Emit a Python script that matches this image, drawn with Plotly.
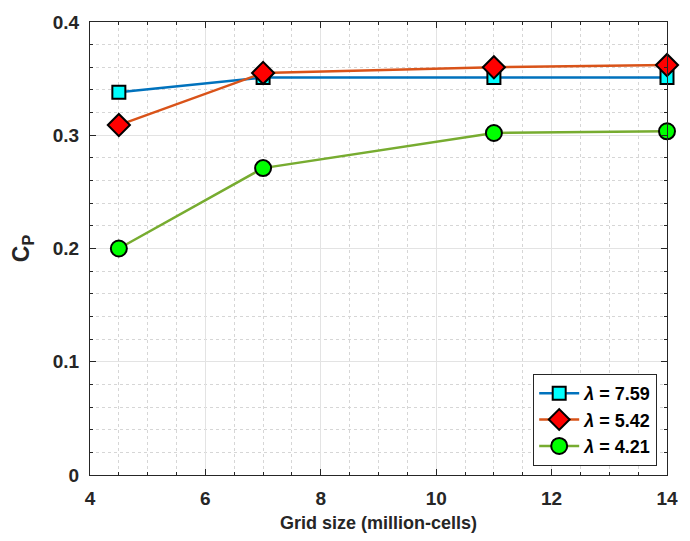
import plotly.graph_objects as go

grid_size = [4.5, 7, 11, 14]
cp_759 = [0.338, 0.351, 0.351, 0.351]
cp_542 = [0.309, 0.355, 0.360, 0.362]
cp_421 = [0.200, 0.271, 0.302, 0.3035]
labels = ["<i>λ</i> = 7.59", "<i>λ</i> = 5.42", "<i>λ</i> = 4.21"]

fig = go.Figure()
series = [
    (cp_759, labels[0], "#0072BD", "square", "#00FFFF", 13),
    (cp_542, labels[1], "#D95319", "diamond", "#FF0000", 17),
    (cp_421, labels[2], "#77AC30", "circle", "#00FF00", 16),
]
for y, name, lc, sym, mc, ms in series:
    fig.add_trace(go.Scatter(
        x=grid_size, y=y, name=name, mode="lines+markers",
        line=dict(color=lc, width=2.5),
        marker=dict(symbol=sym, color=mc, size=ms, line=dict(color="black", width=2)),
        cliponaxis=False,
    ))

font = "Liberation Sans, Arial, sans-serif"
axis_common = dict(
    showline=True, linecolor="#262626", linewidth=1, mirror="ticks",
    ticks="inside", ticklen=6, tickcolor="#262626", tickwidth=1,
    showgrid=True, gridcolor="#E3E3E3", gridwidth=1,
    zeroline=False,
    tickfont=dict(family=font, size=19, color="#262626", weight="bold"),
)
fig.update_xaxes(
    range=[4, 14], tickvals=[4, 6, 8, 10, 12, 14],
    ticklabelstandoff=6,
    minor=dict(dtick=0.5, ticks="inside", ticklen=3, tickcolor="#262626",
               showgrid=True, gridcolor="#D6D6D6", griddash="dot"),
    title=dict(text="<b>Grid size (million-cells)</b>", font=dict(family=font, size=18, color="#262626"), standoff=8),
    **axis_common,
)
fig.update_yaxes(
    range=[0, 0.4], tickvals=[0, 0.1, 0.2, 0.3, 0.4], ticktext=["0", "0.1", "0.2", "0.3", "0.4"],
    ticklabelstandoff=6,
    minor=dict(dtick=0.02, ticks="inside", ticklen=3, tickcolor="#262626",
               showgrid=True, gridcolor="#D6D6D6", griddash="dot"),
    title=dict(text="<b>C<sub>P</sub></b>", font=dict(family=font, size=23, color="#262626"), standoff=16),
    **axis_common,
)
fig.update_layout(
    width=690, height=541,
    margin=dict(l=90, r=13, t=16, b=65),
    plot_bgcolor="white", paper_bgcolor="white",
    showlegend=True,
    legend=dict(
        x=0.983, y=0.02, xanchor="right", yanchor="bottom",
        bgcolor="white", bordercolor="#262626", borderwidth=1,
        font=dict(family=font, size=18, color="black", weight="bold"),
        itemwidth=40, tracegroupgap=0,
    ),
)
fig.write_html("out.html")
